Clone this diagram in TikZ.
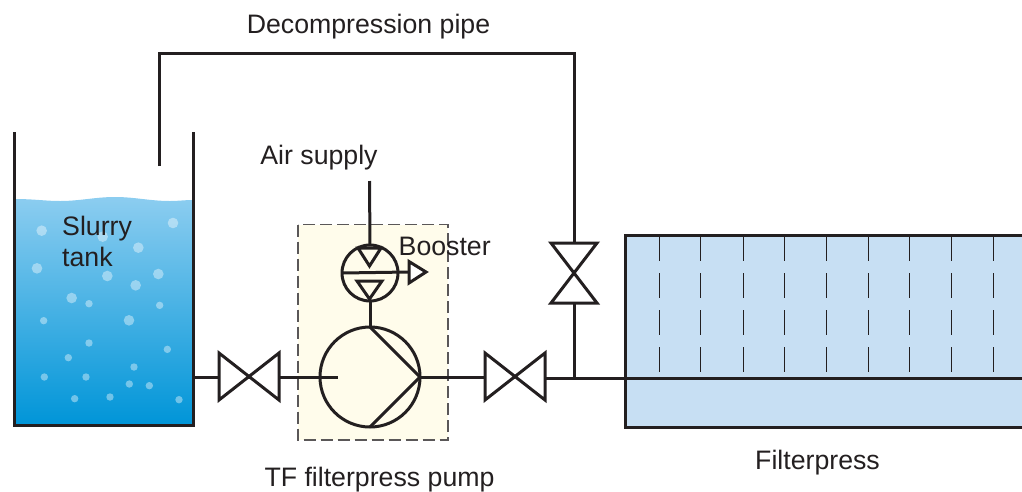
\documentclass[tikz,border=0pt]{standalone}
\usepackage{fontspec}
\setmainfont{Liberation Sans}
\definecolor{ink}{HTML}{231F20}
\definecolor{watertop}{HTML}{8CCDF0}
\definecolor{waterbot}{HTML}{0095D8}
\definecolor{pressblue}{HTML}{C7DFF3}
\definecolor{pumpbg}{HTML}{FFFCEB}
\tikzset{
  pipe/.style={draw=ink,line width=3pt},
  sym/.style={draw=ink,line width=3pt,line join=miter,fill=white},
  opensym/.style={draw=ink,line width=3pt,line join=miter},
  label/.style={text=ink,font=\fontsize{26.7}{31}\selectfont,inner sep=0pt},
  bubble/.style={fill=white,fill opacity=.4,draw=none},
  tick/.style={draw=ink,line width=1.3pt},
  ringnode/.style={circle,draw=ink,line width=3pt,inner sep=0pt,outer sep=0pt},
}
\begin{document}
\begin{tikzpicture}[x=1pt,y=-1pt]
\useasboundingbox (0,0) rectangle (1022,491);
% water
\shade[top color=watertop,bottom color=waterbot]
  (14,199) .. controls (35,199) and (45,201) .. (60,201)
  .. controls (80,201) and (95,197) .. (115,197)
  .. controls (135,197) and (150,201) .. (170,201)
  .. controls (178,201) and (185,200) .. (193,200) -- (193,425) -- (14,425) -- cycle;
\foreach \x/\y/\r in {125/302/5.3,308/320/5.3,415/353/5.3,519/279/5.3,111/415/5.3,322/438/5.3,475/432/5.3,407/466/5.3,215/504/5.3,387/571/5.3,267/521/3.7,479/526/3.7,131/572/3.7,267/639/3.7,502/658/3.7,205/683/3.7,402/711/3.7,133/741/3.7,258/741/3.7,388/762/3.7,448/767/3.7,224/806/3.7,330/801/3.7,537/809/3.7}
  \fill[bubble] ({\x/3},{130+\y/3}) circle ({\r});
\draw[pipe,line join=miter] (14,132) -- (14,425) -- (193,425) -- (193,132);
% pump enclosure
\fill[pumpbg] (298,224.5) rectangle (448,440);
\draw[draw=ink!75,line width=1.2pt,dash pattern=on 12pt off 5pt] (298,224.5) rectangle (448,440);
% filterpress
\fill[pressblue] (625,235) rectangle (1024,427);
\draw[pipe] (1026,235) -- (625,235) -- (625,427) -- (1026,427);
\foreach \x in {659.5,700.5,743.5,784.5,826.5,868.5,909.5,951.5,993.5}
  \foreach \a/\b in {237/261,273/298,310/335,347/372}
    \draw[tick] (\x,\a) -- (\x,\b);
% named anchors
\coordinate (tankout) at (193,377);
\coordinate (v1) at (249,377);
\coordinate (v2) at (515,377);
\coordinate (v3) at (574,273);
\coordinate (v2out) at (517,378);
\coordinate (junction) at (574,378);
\coordinate (pressend) at (1022,378);
\coordinate (dipA) at (159,166);
\coordinate (dipB) at (159,53);
\coordinate (dipC) at (574,53);
\coordinate (air) at (369.5,181);
\coordinate (pumpin) at (338,377);
\node[ringnode,minimum size=100pt] (pump) at (370,377) {};
\node[ringnode,minimum size=56pt] (boost) at (370,273) {};
% connectors
\draw[pipe] (tankout) -- (v1);
\draw[pipe] (v1) -- (pumpin);
\draw[pipe] (pump.east) -- (v2);
\draw[pipe] (v2out) -- (pressend);
\draw[pipe,line join=miter] (dipA) -- (dipB) -- (dipC) -- (v3);
\draw[pipe] (v3) -- (junction);
\draw[pipe] (air) -- (boost.north);
\draw[pipe] (boost.south) -- (pump.north);
% pump chevron
\draw[opensym] (pump.north) -- (pump.east) -- (pump.south);
% booster details
\draw[opensym] (boost.west) -- (408,272);
\draw[sym,fill=none] (358,248) -- (381,248) -- (369.5,266) -- cycle;
\draw[sym,fill=none] (357,281) -- (382,281) -- (369.5,299) -- cycle;
\draw[sym] (409,261.5) -- (426,272) -- (409,283) -- cycle;
% valves
\draw[sym] (219,353) -- (279,400) -- (279,353) -- (219,400) -- cycle;
\draw[sym] (485,353) -- (545,400) -- (545,353) -- (485,400) -- cycle;
\draw[sym] (551,243) -- (597,243) -- (551,303) -- (597,303) -- cycle;
% labels
\node[label] (ldecomp) at (368.5,27) {Decompression pipe};
\node[label] (lair) at (319,158) {Air supply};
\node[label,align=left,anchor=west] (lslurry) at (62,241.5) {Slurry\\tank};
\node[label,anchor=west] (lbooster) at (398.5,246.5) {Booster};
\node[label] (ltf) at (379.5,480) {TF filterpress pump};
\node[label] (lfilter) at (817.5,463) {Filterpress};
\end{tikzpicture}
\end{document}
